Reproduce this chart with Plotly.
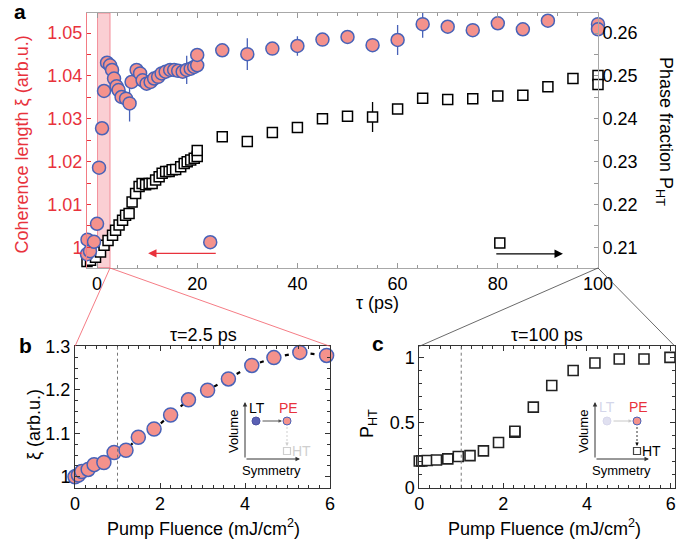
import plotly.graph_objects as go

W, H = 678, 541

# ---------------- Panel a data ----------------
tau_xi = [-2.0, -1.9, -1.4, -0.6, 0.0, 0.4, 1.0, 1.4, 2.0, 2.6, 3.0, 3.4, 3.9, 4.3, 4.9, 5.8,
          6.5, 6.9, 7.9, 8.6, 9.1, 9.9, 10.7, 11.4, 12.2, 12.9, 13.7, 14.6, 15.4, 16.2, 17.1,
          17.9, 18.7, 19.4, 20.0, 20.0, 25, 30, 35, 40, 45, 50, 55, 60, 65, 70, 75, 80, 85,
          90, 100, 100]
xi = [0.9984, 1.0018, 0.9991, 1.0013, 1.0055, 1.0186, 1.0278, 1.0365, 1.0431, 1.0425, 1.0414,
      1.0394, 1.0376, 1.0367, 1.0351, 1.0347, 1.0336, 1.0386, 1.0414, 1.0406, 1.0390, 1.0382,
      1.0386, 1.0394, 1.0398, 1.0406, 1.0410, 1.0414, 1.0414, 1.0412, 1.0410, 1.0414, 1.0417,
      1.0421, 1.0425, 1.0449, 1.0460, 1.0451, 1.0464, 1.0470, 1.0485, 1.0491, 1.0472, 1.0484,
      1.0521, 1.0515, 1.0507, 1.0523, 1.0509, 1.0529, 1.0521, 1.0509]
xi_err = [0.0008, 0.0008, 0.0008, 0.0008, 0.0008, 0.0008, 0.0012, 0.0012, 0.0012, 0.0010, 0.0010,
          0.0008, 0.0008, 0.0008, 0.0008, 0.0008, 0.0042, 0.0008, 0.0008, 0.0008, 0.0008, 0.0008,
          0.0008, 0.0008, 0.0008, 0.0008, 0.0008, 0.0008, 0.0008, 0.0008, 0.0008, 0.0033, 0.0008,
          0.0008, 0.0008, 0.0008, 0.0008, 0.0037, 0.0012, 0.0023, 0.0008, 0.0008, 0.0012, 0.0035,
          0.0032, 0.0015, 0.0008, 0.0008, 0.0008, 0.0008, 0.0008, 0.0008]

tau_p = [-2.0, -1.3, -0.3, 0.7, 1.4, 2.2, 3.1, 3.7, 4.4, 5.1, 5.7, 6.4, 7.0, 7.7, 8.4, 9.0, 9.7,
         10.4, 11.0, 11.7, 12.4, 13.0, 13.7, 14.4, 15.0, 15.7, 16.7, 17.4, 18.0, 18.7, 19.4, 20.0,
         20.0, 25, 30, 35, 40, 45, 50, 55, 60, 65, 70, 75, 80, 85, 90, 95, 100, 100]
p_ht = [0.2067, 0.2070, 0.2077, 0.2089, 0.2105, 0.2116, 0.2128, 0.2140, 0.2152, 0.2163, 0.2175,
        0.2179, 0.2206, 0.2226, 0.2242, 0.2249, 0.2246, 0.2249, 0.2249, 0.2257, 0.2265, 0.2273,
        0.2277, 0.2277, 0.2281, 0.2282, 0.2288, 0.2296, 0.2300, 0.2304, 0.2308, 0.2312, 0.2326,
        0.2358, 0.2347, 0.2368, 0.2380, 0.2400, 0.2406, 0.2404, 0.2423, 0.2448, 0.2445, 0.2447,
        0.2453, 0.2455, 0.2475, 0.2494, 0.2501, 0.2480]
p_err = [0.0004] * 11 + [0.0016] + [0.0004] * 27 + [0.0035] + [0.0004] * 6 + [0.0008, 0.0008, 0.0004, 0.0004]

# key symbols of panel a
key_xi = ([22.6], [1.0012])
key_p = ([80.4], [0.2110])

# ---------------- Panel b data ----------------
flu_b = [0.0, 0.08, 0.16, 0.31, 0.45, 0.68, 0.92, 1.20, 1.49, 1.86, 2.25, 2.67, 3.12, 3.61,
         4.16, 4.68, 5.29, 5.92]
xi_b = [1.000, 1.004, 1.012, 1.017, 1.028, 1.033, 1.056, 1.061, 1.091, 1.110, 1.142, 1.177,
        1.199, 1.225, 1.256, 1.274, 1.286, 1.279]

# ---------------- Panel c data ----------------
flu_c = [0.0, 0.06, 0.19, 0.41, 0.68, 0.93, 1.21, 1.53, 1.89, 2.28, 2.28, 2.72, 3.16, 3.67,
         4.19, 4.77, 5.36, 5.98]
p_c = [0.206, 0.207, 0.210, 0.214, 0.222, 0.240, 0.247, 0.284, 0.348, 0.428, 0.435, 0.621,
       0.788, 0.904, 0.961, 0.992, 0.992, 1.005]

FONT = "Liberation Sans, Arial, Helvetica, sans-serif"
RED = "#e8323c"
SALMON = "#f4928c"
BLUE = "#4862b8"
GRAYLINE = "#a8a8a8"


def px(x):
    return x / W


def py(y):
    return 1 - y / H


fig = go.Figure()

# panel a squares (right axis, primary y)
fig.add_trace(go.Scatter(
    x=tau_p, y=p_ht, xaxis="x", yaxis="y", mode="markers", cliponaxis=False,
    marker=dict(symbol="square", size=10, color="white", line=dict(color="black", width=1.5)),
    error_y=dict(type="data", array=p_err, color="black", thickness=1.3, width=0)))
fig.add_trace(go.Scatter(
    x=key_p[0], y=key_p[1], xaxis="x", yaxis="y", mode="markers", cliponaxis=False,
    marker=dict(symbol="square", size=10, color="white", line=dict(color="black", width=1.5))))

# panel a circles (left axis, overlay)
fig.add_trace(go.Scatter(
    x=tau_xi, y=xi, xaxis="x", yaxis="y2", mode="markers", cliponaxis=False,
    marker=dict(symbol="circle", size=13, color=SALMON, line=dict(color=BLUE, width=1.5)),
    error_y=dict(type="data", array=xi_err, color=BLUE, thickness=1.3, width=0)))
fig.add_trace(go.Scatter(
    x=key_xi[0], y=key_xi[1], xaxis="x", yaxis="y2", mode="markers", cliponaxis=False,
    marker=dict(symbol="circle", size=13, color=SALMON, line=dict(color=BLUE, width=1.5))))

# panel b
fig.add_trace(go.Scatter(
    x=flu_b, y=xi_b, xaxis="x2", yaxis="y3", mode="lines", cliponaxis=False,
    line=dict(color="black", width=2.2, dash="4px,9px")))
fig.add_trace(go.Scatter(
    x=flu_b, y=xi_b, xaxis="x2", yaxis="y3", mode="markers", cliponaxis=False,
    marker=dict(symbol="circle", size=14, color=SALMON, line=dict(color=BLUE, width=1.5))))

# panel c
fig.add_trace(go.Scatter(
    x=flu_c, y=p_c, xaxis="x3", yaxis="y4", mode="markers", cliponaxis=False,
    marker=dict(symbol="square", size=10, color="white", line=dict(color="#222", width=1.6))))

tickfont = dict(family=FONT, size=18, color="black")


def xax(domain, anchor, rng, tickvals, minor_dtick, linecolor, tickcolor):
    return dict(domain=domain, anchor=anchor, range=rng, tickvals=tickvals, ticks="inside",
                ticklen=5, tickwidth=1, tickcolor=tickcolor, showline=True, linecolor=linecolor,
                linewidth=1, mirror="ticks", showgrid=False, zeroline=False, tickfont=tickfont,
                automargin=False,
                minor=dict(tick0=0, dtick=minor_dtick, ticks="inside", ticklen=3, tickcolor=tickcolor))


fig.update_layout(
    width=W, height=541, margin=dict(l=0, r=0, t=0, b=0, autoexpand=False),
    paper_bgcolor="white", plot_bgcolor="white", showlegend=False,
    font=dict(family=FONT, size=18, color="black"),
    xaxis=xax([px(87), px(598)], "y", [-2, 100], [0, 20, 40, 60, 80, 100], 4, GRAYLINE, "#999"),
    yaxis=dict(domain=[py(267.5), py(13)], anchor="x", side="right", range=[0.2053, 0.2647],
               tickvals=[0.21, 0.22, 0.23, 0.24, 0.25, 0.26],
               ticktext=["0.21", "0.22", "0.23", "0.24", "0.25", "0.26"],
               ticks="inside", ticklen=4, tickcolor="#999", showline=True, linecolor=GRAYLINE,
               linewidth=1, showgrid=False, zeroline=False, tickfont=tickfont, automargin=False,
               minor=dict(tick0=0.21, dtick=0.005, ticks="inside", ticklen=4, tickcolor="#999")),
    yaxis2=dict(overlaying="y", anchor="x", side="left", range=[0.9953, 1.0547],
                tickvals=[1.0, 1.01, 1.02, 1.03, 1.04, 1.05],
                ticktext=["1", "1.01", "1.02", "1.03", "1.04", "1.05"],
                ticks="inside", ticklen=4, tickcolor=RED, showline=True, linecolor="#f27c84",
                linewidth=1, showgrid=False, zeroline=False, automargin=False,
                tickfont=dict(family=FONT, size=18, color=RED),
                minor=dict(tick0=1.0, dtick=0.005, ticks="inside", ticklen=4, tickcolor=RED)),
    xaxis2=xax([px(75), px(330)], "y3", [0, 6], [0, 2, 4, 6], 0.25, "#333", "#333"),
    yaxis3=dict(domain=[py(487.7), py(346.3)], anchor="x2", range=[0.975, 1.3],
                tickvals=[1.0, 1.1, 1.2, 1.3], ticktext=["1", "1.1", "1.2", "1.3"],
                ticks="inside", ticklen=5, tickcolor="#333", showline=True, linecolor="#333",
                linewidth=1, mirror="ticks", showgrid=False, zeroline=False, tickfont=tickfont,
                automargin=False,
                minor=dict(tick0=1.0, dtick=0.025, ticks="inside", ticklen=3, tickcolor="#333")),
    xaxis3=xax([px(419.3), px(675)], "y4", [0, 6.1], [0, 2, 4, 6], 0.25, "#333", "#333"),
    yaxis4=dict(domain=[py(487.7), py(346.3)], anchor="x3", range=[0, 1.09],
                tickvals=[0, 0.5, 1.0], ticktext=["0", "0.5", "1"],
                ticks="inside", ticklen=5, tickcolor="#333", showline=True, linecolor="#333",
                linewidth=1, mirror="ticks", showgrid=False, zeroline=False, tickfont=tickfont,
                automargin=False,
                minor=dict(tick0=0, dtick=0.1, ticks="inside", ticklen=3, tickcolor="#333")),
)

shapes = []
# pump window band in panel a
shapes.append(dict(type="rect", xref="x", yref="y domain", x0=0.1, x1=2.6, y0=0, y1=1,
                   fillcolor="rgba(246,160,168,0.5)", line=dict(color="rgba(240,110,125,0.7)", width=1),
                   layer="below"))
# dashed fluence threshold lines
shapes.append(dict(type="line", xref="x2", yref="y3 domain", x0=1, x1=1, y0=0, y1=1,
                   line=dict(color="#777", width=1, dash="3px,3px")))
shapes.append(dict(type="line", xref="x3", yref="y4 domain", x0=1, x1=1, y0=0, y1=1,
                   line=dict(color="#777", width=1, dash="3px,3px")))
# zoom connector lines
for (x0, y0, x1, y1, c) in [(110, 268, 75, 346.3, "#f25a66"), (110, 268, 330, 346.3, "#f25a66"),
                            (598, 268, 419.3, 346.3, "#444"), (598, 268, 675, 346.3, "#444")]:
    shapes.append(dict(type="line", xref="paper", yref="paper", x0=px(x0), y0=py(y0),
                       x1=px(x1), y1=py(y1), line=dict(color=c, width=0.8)))


def dot(cx, cy, r, fill, edge, width=1):
    shapes.append(dict(type="circle", xref="paper", yref="paper", xsizemode="pixel",
                       ysizemode="pixel", xanchor=px(cx), yanchor=py(cy), x0=-r, x1=r, y0=-r, y1=r,
                       fillcolor=fill, line=dict(color=edge, width=width)))


def sq(cx, cy, r, edge):
    shapes.append(dict(type="rect", xref="paper", yref="paper", xsizemode="pixel",
                       ysizemode="pixel", xanchor=px(cx), yanchor=py(cy), x0=-r, x1=r, y0=-r, y1=r,
                       fillcolor="white", line=dict(color=edge, width=1.2)))


def vline_dash(x, y0, y1, color):
    shapes.append(dict(type="line", xref="paper", yref="paper", x0=px(x), x1=px(x), y0=py(y0),
                       y1=py(y1), line=dict(color=color, width=1, dash="2px,2px")))


annotations = []


def text(x, y, s, size=18, color="black", angle=0, bold=False):
    annotations.append(dict(x=px(x), y=py(y), xref="paper", yref="paper", showarrow=False,
                            text=("<b>%s</b>" % s) if bold else s, textangle=angle,
                            xanchor="center", yanchor="middle",
                            font=dict(family=FONT, size=size, color=color)))


def arrow(x_head, y_head, x_tail, y_tail, color, size=0.8, width=1):
    annotations.append(dict(x=px(x_head), y=py(y_head), xref="paper", yref="paper",
                            ax=x_tail - x_head, ay=y_tail - y_head, axref="pixel", ayref="pixel",
                            showarrow=True, arrowhead=2, arrowsize=size, arrowwidth=width,
                            arrowcolor=color, text=""))


# panel letters and titles
text(20, 12, "a", 21, bold=True)
text(25, 345, "b", 21, bold=True)
text(378, 343, "c", 21, bold=True)
text(21.5, 145, "Coherence length ξ (arb.u.)", 18, RED, -90)
text(664, 131, "Phase fraction P<sub>HT</sub>", 18, "black", 90)
text(377, 303, "τ (ps)", 18)
text(203, 335, "τ=2.5 ps", 18)
text(547, 335, "τ=100 ps", 18)
text(34, 425, "ξ (arb.u.)", 18, "black", -90)
text(368, 424, "P<sub>HT</sub>", 18, "black", -90)
text(203.5, 527, "Pump Fluence (mJ/cm<sup>2</sup>)", 18)
text(544, 527, "Pump Fluence (mJ/cm<sup>2</sup>)", 18)

# panel a axis-key arrows
annotations.append(dict(x=10.2, y=0.9986, xref="x", yref="y2", ax=24.0, ay=0.9986, axref="x",
                        ayref="y2", showarrow=True, arrowhead=2, arrowsize=1.4, arrowwidth=1.2,
                        arrowcolor=RED, text=""))
annotations.append(dict(x=93.0, y=0.2085, xref="x", yref="y", ax=79.4, ay=0.2085, axref="x",
                        ayref="y", showarrow=True, arrowhead=2, arrowsize=1.4, arrowwidth=1.2,
                        arrowcolor="black", text=""))

# inset in panel b
ox, oy = 245, 459
arrow(ox, 402, ox, oy, "#333", 0.9, 1)
arrow(300, oy, ox, oy, "#333", 0.9, 1)
text(257, 408, "LT", 14)
text(288, 408, "PE", 14, RED)
text(233, 432, "Volume", 13, "black", -90)
text(271, 470, "Symmetry", 13)
dot(256, 421, 4, "#5a60b4", "#4a50a0")
dot(287, 421, 4, SALMON, BLUE)
arrow(282, 421, 261, 421, "#555", 0.7, 1)
vline_dash(287, 427, 444, "#cfcfcf")
arrow(287, 446, 287, 441, "#cfcfcf", 0.7, 1)
sq(287, 451, 3.5, "#cfcfcf")
text(301, 451, "HT", 14, "#cfcfcf")

# inset in panel c
ox, oy = 595, 459
arrow(ox, 402, ox, oy, "#333", 0.9, 1)
arrow(649, oy, ox, oy, "#333", 0.9, 1)
text(607, 407, "LT", 14, "#d4d6ea")
text(638, 407, "PE", 14, RED)
text(583, 432, "Volume", 13, "black", -90)
text(621, 470, "Symmetry", 13)
dot(607, 421, 4, "#e0e0f0", "#d8d8ec")
dot(637, 421, 4, SALMON, BLUE)
arrow(632, 421, 612, 421, "#c8c8c8", 0.7, 1)
vline_dash(637, 427, 444, "#333")
arrow(637, 446, 637, 441, "#111", 0.7, 1)
sq(637, 451, 3.5, "#444")
text(651, 451, "HT", 14)

fig.update_layout(shapes=shapes, annotations=annotations)
fig.write_html("out.html", config={"displayModeBar": False},
               post_script="document.body.style.margin='0px';document.body.style.padding='0px';")
